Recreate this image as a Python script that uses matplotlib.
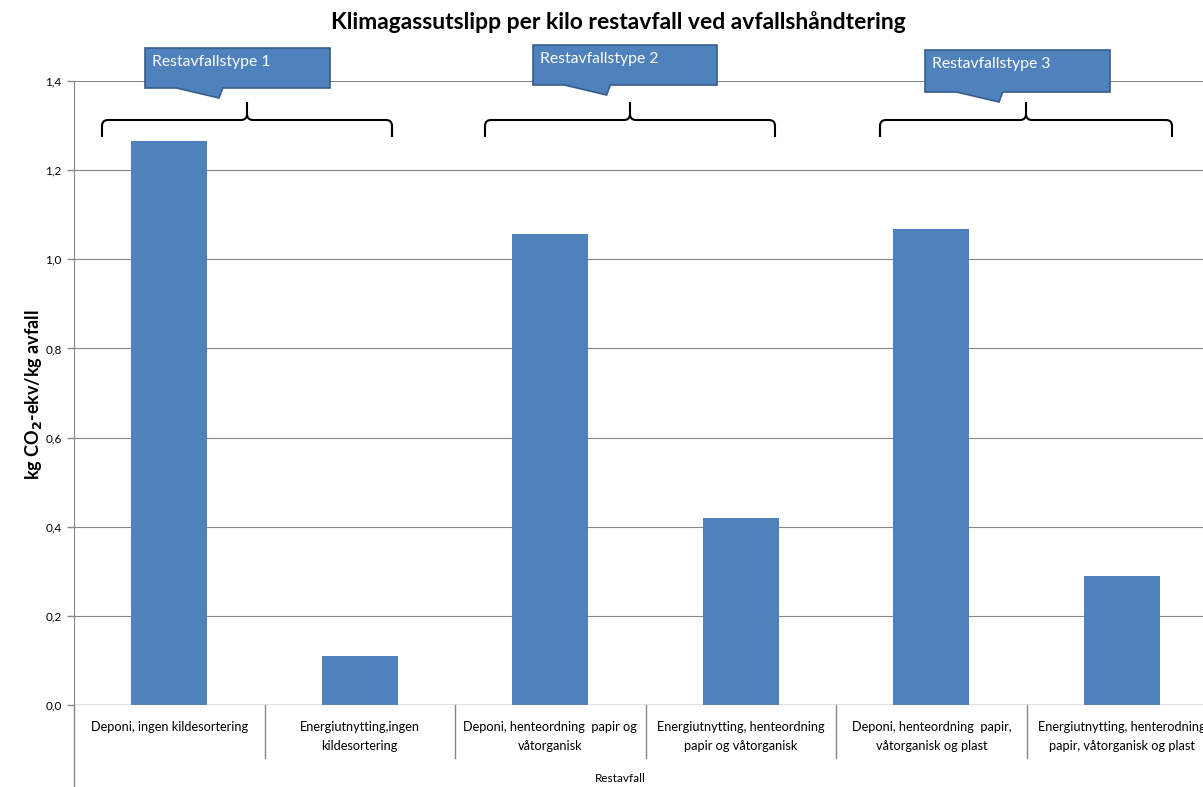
import matplotlib
matplotlib.use("Agg")
import matplotlib.pyplot as plt
from matplotlib.path import Path
from matplotlib.patches import PathPatch, Polygon
from matplotlib.ticker import FuncFormatter

categories = [
    "Deponi, ingen kildesortering",
    "Energiutnytting,ingen\nkildesortering",
    "Deponi, henteordning  papir og\nvåtorganisk",
    "Energiutnytting, henteordning\npapir og våtorganisk",
    "Deponi, henteordning  papir,\nvåtorganisk og plast",
    "Energiutnytting, henterodning\npapir, våtorganisk og plast",
]
values = [1.265, 0.11, 1.057, 0.42, 1.068, 0.29]
group_labels = ["Restavfallstype 1", "Restavfallstype 2", "Restavfallstype 3"]
yticks = [0.0, 0.2, 0.4, 0.6, 0.8, 1.0, 1.2, 1.4]

W, H = 1203, 787
fig = plt.figure(figsize=(W / 100, H / 100), dpi=100)
plt.rcParams['font.family'] = ['Lato', 'DejaVu Sans']

def fx(px):
    return px / W

def fy(py):
    return 1 - py / H

ax_left, ax_right, ax_top, ax_bottom = 74, 1217, 81, 705
ax = fig.add_axes([fx(ax_left), fy(ax_bottom), fx(ax_right - ax_left), (ax_bottom - ax_top) / H])
x = list(range(len(categories)))
ax.bar(x, values, width=0.4, color='#4F81BD', zorder=3)
ax.set_xlim(-0.5, len(categories) - 0.5)
ax.set_ylim(0, 1.4)
ax.set_yticks(yticks)
ax.yaxis.set_major_formatter(FuncFormatter(lambda v, p: f"{v:.1f}".replace('.', ',')))
ax.tick_params(axis='y', labelsize=8.5, colors='#868686', labelcolor='black', length=5, width=1, pad=4)
ax.set_xticks([])
ax.grid(axis='y', color='#868686', linewidth=0.8, zorder=0)
for s in ['top', 'right', 'bottom']:
    ax.spines[s].set_visible(False)
ax.spines['left'].set_color('#868686')
ax.axhline(0, color='#868686', linewidth=1, zorder=4)

# Category separator lines & labels (figure coords)
cat_w = (ax_right - ax_left) / len(categories)
for i in range(1, len(categories)):
    xp = ax_left + i * cat_w
    fig.add_artist(plt.Line2D([fx(xp), fx(xp)], [fy(705), fy(758)], color='#868686', linewidth=1))
for i, lab in enumerate(categories):
    xc = ax_left + (i + 0.5) * cat_w
    fig.text(fx(xc), fy(721), lab, ha='center', va='top', fontsize=9.2, linespacing=1.65)
# extended y axis line
fig.add_artist(plt.Line2D([fx(ax_left), fx(ax_left)], [fy(705), 0], color='#868686', linewidth=1))
fig.text(fx(620), fy(779), "Restavfall", ha='center', va='center', fontsize=8.5)

fig.text(fx(618), fy(22), "Klimagassutslipp per kilo restavfall ved avfallshåndtering",
         ha='center', va='center', fontsize=16.5, fontweight='bold')
fig.text(fx(34), fy(395), r"kg CO$_\mathbf{2}$-ekv/kg avfall", rotation=90, ha='center', va='center',
         fontsize=13, fontweight='bold')

# Braces
def brace(x0, x1, ytop, yend, ytip):
    xm = (x0 + x1) / 2
    r = 6
    pts = [
        (x0, yend), (x0, ytop + r), (x0, ytop), (x0 + r, ytop),
        (xm - r, ytop), (xm, ytop), (xm, ytop - r),
        (xm, ytip),
        (xm, ytop - r), (xm, ytop), (xm + r, ytop),
        (x1 - r, ytop), (x1, ytop), (x1, ytop + r), (x1, yend),
    ]
    codes = [Path.MOVETO, Path.LINETO, Path.CURVE3, Path.CURVE3,
             Path.LINETO, Path.CURVE3, Path.CURVE3,
             Path.LINETO,
             Path.MOVETO, Path.CURVE3, Path.CURVE3,
             Path.LINETO, Path.CURVE3, Path.CURVE3, Path.LINETO]
    verts = [(fx(a), fy(b)) for a, b in pts]
    fig.add_artist(PathPatch(Path(verts, codes), transform=fig.transFigure, fill=False,
                             edgecolor='black', linewidth=1.5))

brace_specs = [(102, 392), (485, 775), (880, 1172)]
for (a, b) in brace_specs:
    brace(a, b, 120, 137, 102)

# Callouts
callouts = [(145, 330, 48, 88, 220), (533, 717, 45, 85, 608), (925, 1110, 50, 92, 1000)]
for (bx0, bx1, by0, by1, tx), lab in zip(callouts, group_labels):
    w = bx1 - bx0
    pts = [(bx0, by0), (bx1, by0), (bx1, by1), (bx0 + 0.42 * w, by1),
           (bx0 + 0.40 * w, by1 + 10), (bx0 + 0.17 * w, by1),
           (bx0, by1)]
    poly = Polygon([(fx(a), fy(b)) for a, b in pts], closed=True, transform=fig.transFigure,
                   facecolor='#4F81BD', edgecolor='#385D8A', linewidth=1.2, zorder=5)
    fig.add_artist(poly)
    fig.text(fx(bx0 + 7), fy(by0 + 14), lab, ha='left', va='center', fontsize=11.3, color='white', zorder=6)

fig.savefig("out.png", dpi=100)
